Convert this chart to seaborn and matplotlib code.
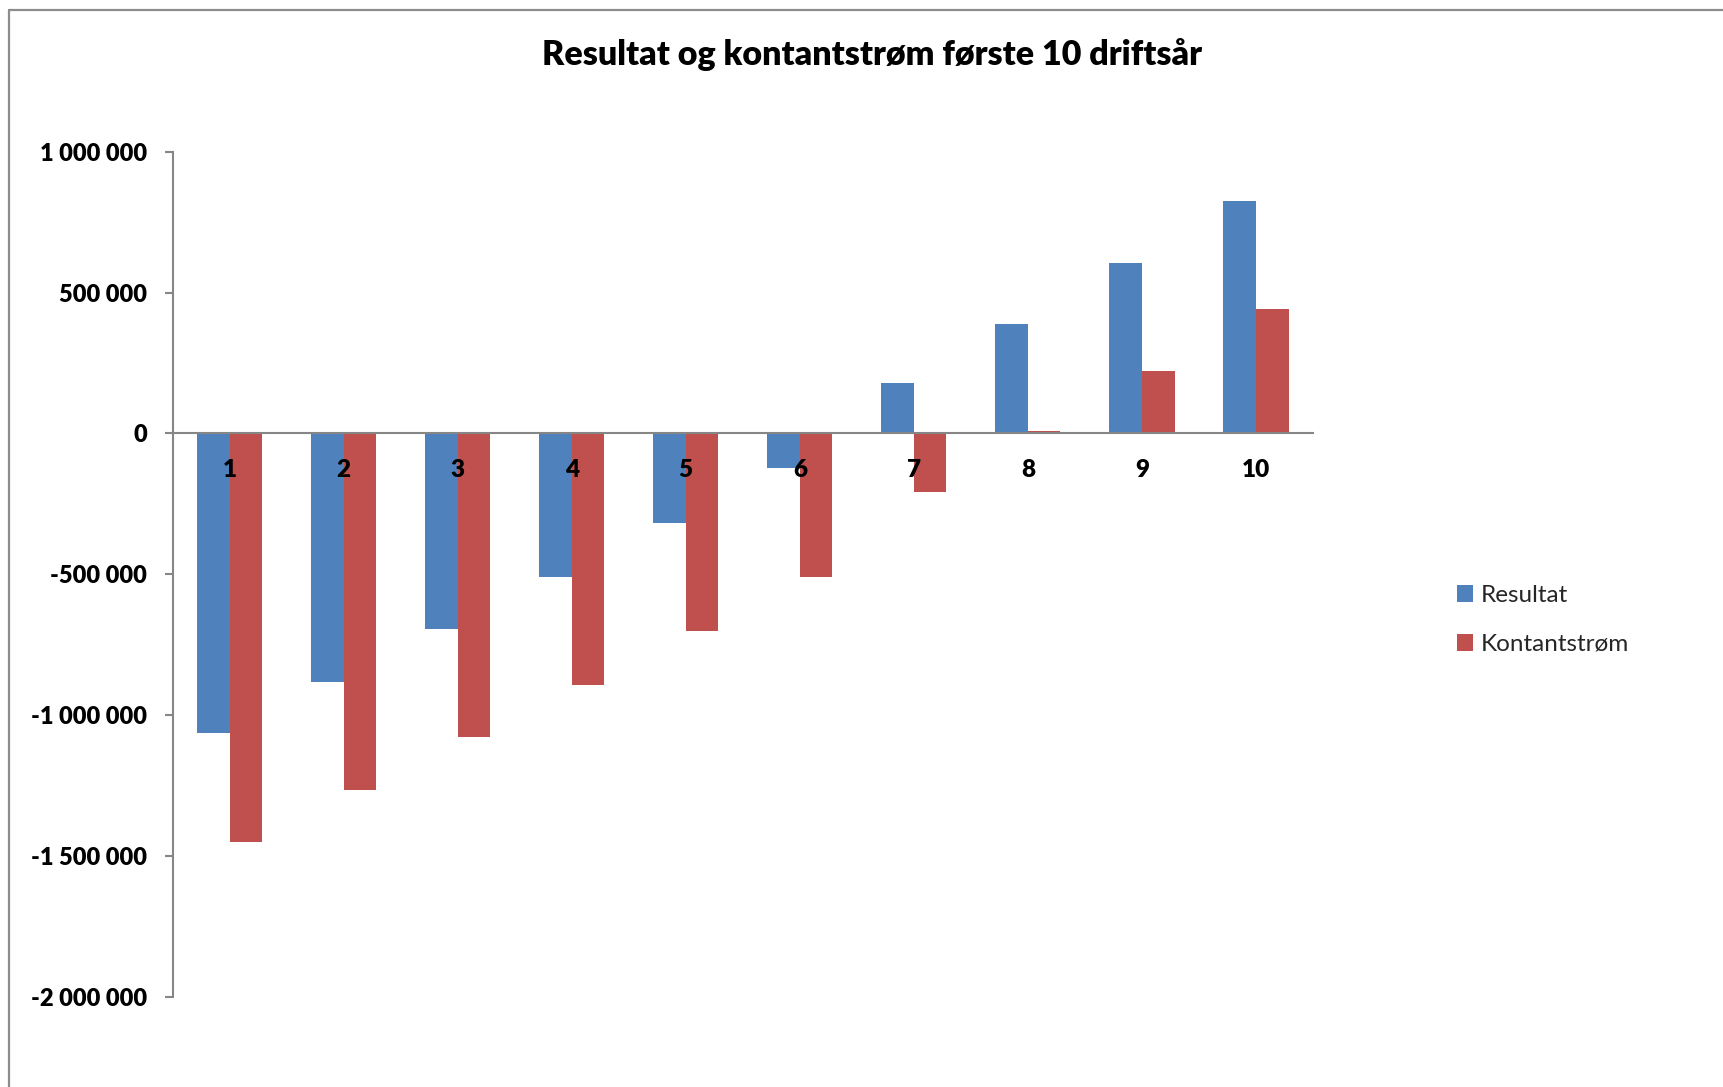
import numpy as np
import pandas as pd
import matplotlib
matplotlib.use('Agg')
import matplotlib.pyplot as plt
from matplotlib.lines import Line2D
from matplotlib.ticker import FuncFormatter
import seaborn as sns

# ── Data ───────────────────────────────────────────────────────
years = ['1', '2', '3', '4', '5', '6', '7', '8', '9', '10']
resultat = [-1065000, -882000, -696000, -509000, -317000, -124000,
            178000, 390000, 606000, 826000]
kontantstrom = [-1450000, -1266000, -1079000, -892000, -702000, -510000,
                -207000, 7000, 222000, 440000]
series_names = ['Resultat', 'Kontantstrøm']
colors = ['#4F81BD', '#C0504D']
yticks = [-2000000, -1500000, -1000000, -500000, 0, 500000, 1000000]

df = pd.DataFrame({
    'År': years * 2,
    'Verdi': resultat + kontantstrom,
    'Serie': [series_names[0]] * len(years) + [series_names[1]] * len(years),
})

# ── Theme ──────────────────────────────────────────────────────
sns.set_theme(style='white')
plt.rcParams['font.family'] = ['Lato', 'DejaVu Sans']
AXIS_GREY = '#868686'

W, H = 1723, 1087
fig = plt.figure(figsize=(W / 100, H / 100), dpi=100)
fig.patch.set_facecolor('white')

# plot area in pixel coords -> figure fractions
x0, x1, y_top, y_bot = 172.5, 1313, 151.7, 996.7
ax = fig.add_axes([x0 / W, 1 - y_bot / H, (x1 - x0) / W, (y_bot - y_top) / H])

sns.barplot(data=df, x='År', y='Verdi', hue='Serie', order=years,
            hue_order=series_names, palette=colors, width=0.5714,
            saturation=1, errorbar=None, linewidth=0, ax=ax)

ax.set_xlim(-0.5, len(years) - 0.5)
ax.set_ylim(min(yticks), max(yticks))
ax.set_yticks(yticks)
ax.yaxis.set_major_formatter(FuncFormatter(lambda v, p: f'{v:,.0f}'.replace(',', ' ')))
ax.set_xlabel('')
ax.set_ylabel('')

# axes styling: y-axis on left, x-axis through zero
for s in ['top', 'right']:
    ax.spines[s].set_visible(False)
ax.spines['left'].set_color(AXIS_GREY)
ax.spines['left'].set_linewidth(1.5)
ax.spines['bottom'].set_position(('data', 0))
ax.spines['bottom'].set_color(AXIS_GREY)
ax.spines['bottom'].set_linewidth(1.5)
ax.set_axisbelow(False)

ax.set_xticks(np.arange(-0.5, len(years), 1), minor=True)
ax.tick_params(axis='x', which='major', length=0, pad=18.5, labelsize=17.5)
ax.tick_params(axis='x', which='minor', length=5.5, width=1.5,
               color=AXIS_GREY, direction='out')
ax.tick_params(axis='y', which='major', length=5.5, width=1.5, color=AXIS_GREY,
               direction='out', left=True, pad=13, labelsize=17)
for lbl in ax.get_xticklabels() + ax.get_yticklabels():
    lbl.set_fontweight('heavy')
    lbl.set_color('black')

# legend
handles, labels = ax.get_legend_handles_labels()
ax.legend(handles, labels, loc='upper left',
          bbox_to_anchor=(1457 / W, 1 - 585 / H), bbox_transform=fig.transFigure,
          frameon=False, fontsize=17.5, handlelength=0.66, handleheight=0.66,
          handletextpad=0.3, labelspacing=1.15, borderpad=0, borderaxespad=0)

# title
fig.text(872 / W, 1 - 65 / H, 'Resultat og kontantstrøm første 10 driftsår',
         ha='center', va='baseline', fontsize=24.5, fontweight='heavy', color='black')

# chart-area frame (cropped at right / bottom)
fig.add_artist(Line2D([9 / W, 9 / W], [0, 1 - 10 / H], transform=fig.transFigure,
                      color='#8C8C8C', lw=1.6))
fig.add_artist(Line2D([9 / W, 1], [1 - 10 / H, 1 - 10 / H], transform=fig.transFigure,
                      color='#8C8C8C', lw=1.6))

fig.savefig('out.png', dpi=100)
